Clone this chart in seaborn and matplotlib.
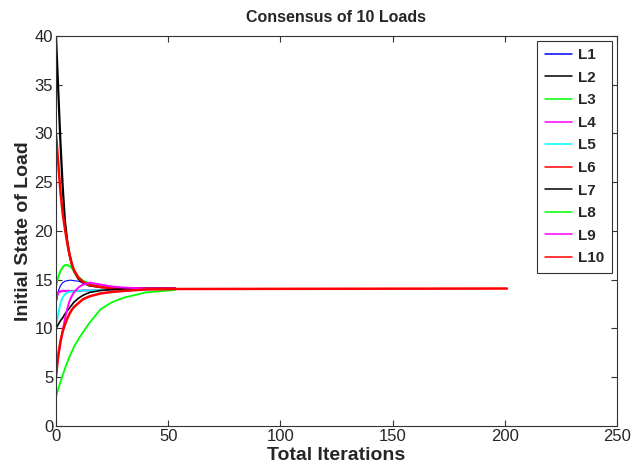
import matplotlib
matplotlib.use("Agg")
import matplotlib.pyplot as plt
from matplotlib.lines import Line2D
import seaborn as sns
import pandas as pd

iters = [0, 1, 2, 3, 4, 5, 6, 7, 8, 10, 12, 15, 20, 25, 30, 40, 53]
iters_long = iters + [201]

L1 = [12.5, 13.8, 14.4, 14.7, 14.85, 14.9, 14.95, 14.95, 14.9, 14.85, 14.7, 14.5, 14.3, 14.2, 14.15, 14.1, 14.1]
L2 = [40.0, 34.5, 29.0, 24.5, 21.0, 19.0, 17.6, 16.6, 15.9, 15.1, 14.7, 14.4, 14.25, 14.15, 14.12, 14.1, 14.1]
L3 = [14.3, 15.3, 15.9, 16.3, 16.5, 16.5, 16.4, 16.2, 15.9, 15.3, 14.9, 14.6, 14.3, 14.2, 14.15, 14.1, 14.1]
L4 = [13.0, 13.7, 13.8, 13.85, 13.85, 13.85, 13.85, 13.85, 13.85, 13.85, 13.9, 13.9, 13.95, 14.0, 14.05, 14.1, 14.1]
L5 = [10.0, 11.5, 12.6, 13.2, 13.5, 13.7, 13.75, 13.8, 13.8, 13.85, 13.9, 13.9, 13.95, 14.0, 14.05, 14.1, 14.1]
L6 = [30.0, 27.0, 24.0, 21.8, 20.2, 18.8, 17.6, 16.7, 16.0, 15.2, 14.8, 14.45, 14.25, 14.15, 14.12, 14.1, 14.1]
L7 = [10.0, 10.4, 10.8, 11.1, 11.5, 11.8, 12.1, 12.4, 12.7, 13.1, 13.4, 13.7, 13.9, 14.0, 14.05, 14.1, 14.1]
L8 = [3.0, 3.8, 4.5, 5.2, 5.9, 6.5, 7.1, 7.6, 8.1, 8.9, 9.6, 10.6, 12.0, 12.7, 13.15, 13.7, 13.95]
L9 = [5.5, 7.0, 8.5, 9.8, 11.0, 12.0, 12.8, 13.3, 13.7, 14.2, 14.5, 14.7, 14.5, 14.3, 14.2, 14.1, 14.1]
L10 = [5.0, 7.3, 8.7, 9.7, 10.4, 11.0, 11.5, 11.9, 12.2, 12.6, 13.0, 13.3, 13.6, 13.75, 13.85, 14.0, 14.05, 14.1]

names = ["L1", "L2", "L3", "L4", "L5", "L6", "L7", "L8", "L9", "L10"]
series = [L1, L2, L3, L4, L5, L6, L7, L8, L9, L10]
colors = ["#0000ff", "#000000", "#00ff00", "#ff00ff", "#00ffff",
          "#ff0000", "#000000", "#00ff00", "#ff00ff", "#ff0000"]
widths = [0.8, 1.6, 1.4, 1.6, 1.3, 1.8, 1.2, 1.3, 1.4, 1.8]

sns.set_style("white")
plt.rcParams["font.family"] = ["Liberation Sans", "DejaVu Sans"]

fig = plt.figure(figsize=(6.34, 4.75), dpi=100)
ax = fig.add_axes([0.0883, 0.1032, 0.8847, 0.8210])

for name, vals, c, lw in zip(names, series, colors, widths):
    x = iters_long if len(vals) == len(iters_long) else iters
    df = pd.DataFrame({"it": x, "val": vals})
    sns.lineplot(data=df, x="it", y="val", ax=ax, color=c, lw=lw,
                 estimator=None, sort=False, legend=False)

ax.set_xlim(0, 250)
ax.set_ylim(0, 40)
ax.set_xticks([0, 50, 100, 150, 200, 250])
ax.set_yticks(range(0, 41, 5))
ax.tick_params(direction="in", length=4, labelsize=12, top=True, right=True,
               bottom=True, left=True, pad=2, color="#333333")
for s in ax.spines.values():
    s.set_color("#333333")
    s.set_linewidth(0.8)

ax.set_title("Consensus of 10 Loads", fontsize=11.5, fontweight="bold", pad=10)
ax.set_xlabel("Total Iterations", fontsize=14, fontweight="bold", labelpad=2)
ax.set_ylabel("Initial State of Load", fontsize=14, fontweight="bold", labelpad=2)

handles = [Line2D([], [], color=c, lw=1.1) for c in colors]
leg = ax.legend(handles, names, loc="upper right", fontsize=11, frameon=True,
                fancybox=False, framealpha=1, edgecolor="#333333",
                handlelength=1.8, borderaxespad=0.3, labelspacing=0.56,
                handletextpad=0.4, borderpad=0.5)
for t in leg.get_texts():
    t.set_fontweight("bold")
leg.get_frame().set_linewidth(0.8)

fig.savefig("out.png", dpi=100)
